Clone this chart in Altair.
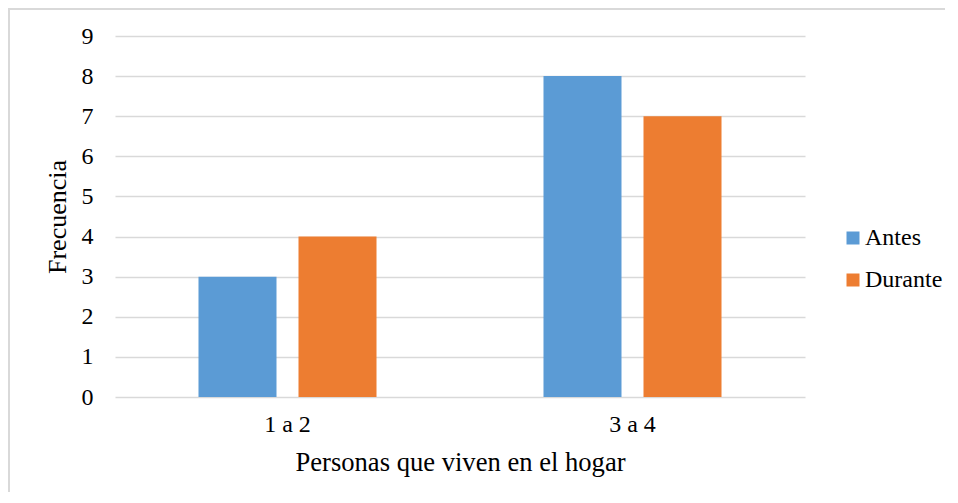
import altair as alt
import pandas as pd

categories = ["1 a 2", "3 a 4"]
series = ["Antes", "Durante"]
antes = [3, 8]
durante = [4, 7]
y_ticks = [0, 1, 2, 3, 4, 5, 6, 7, 8, 9]

rows = []
for i, c in enumerate(categories):
    rows.append({"cat": c, "serie": series[0], "val": antes[i]})
    rows.append({"cat": c, "serie": series[1], "val": durante[i]})
df = pd.DataFrame(rows)

FONT = "'Times New Roman', 'Liberation Serif', Times, serif"

bars = alt.Chart(df).mark_bar().encode(
    x=alt.X("cat:N", sort=categories,
            scale=alt.Scale(paddingInner=0.484, paddingOuter=0.242),
            axis=alt.Axis(title="Personas que viven en el hogar", labelAngle=0,
                          domain=False, ticks=False, labelPadding=15,
                          titlePadding=13, labelFontSize=24, titleFontSize=26.6,
                          labelColor="#000", titleColor="#000",
                          labelFont=FONT, titleFont=FONT, titleFontWeight="normal")),
    xOffset=alt.XOffset("serie:N", sort=series,
                        scale=alt.Scale(paddingInner=0.22, paddingOuter=0)),
    y=alt.Y("val:Q", scale=alt.Scale(domain=[0, 9], nice=False),
            axis=alt.Axis(title="Frecuencia", values=y_ticks, domain=False, ticks=False,
                          grid=True, gridColor="#d9d9d9", gridWidth=1.6,
                          labelPadding=22, titlePadding=11,
                          labelFontSize=24, titleFontSize=26,
                          labelColor="#000", titleColor="#000",
                          labelFont=FONT, titleFont=FONT, titleFontWeight="normal")),
    color=alt.Color("serie:N", sort=series,
                    scale=alt.Scale(domain=series, range=["#5B9BD5", "#ED7D31"]),
                    legend=alt.Legend(title=None, orient="none", legendX=726, legendY=190,
                                      symbolType="square", symbolSize=169,
                                      symbolStrokeWidth=0, labelFontSize=24,
                                      labelFont=FONT, labelColor="#000",
                                      rowPadding=18, labelOffset=0, padding=0)),
)

frame = alt.Chart(pd.DataFrame({"k": [0]})).mark_rect(
    fill=None, stroke="#d9d9d9", strokeWidth=2
).encode(x=alt.value(-106), x2=alt.value(900), y=alt.value(-27), y2=alt.value(600))

chart = alt.layer(frame, bars).properties(
    width=690, height=361,
    autosize=alt.AutoSizeParams(type="none"),
    padding={"left": 107, "top": 28, "right": 140, "bottom": 95},
).configure(font=FONT).configure_axis(labelFont=FONT, titleFont=FONT).configure_legend(
    labelFont=FONT
).configure_view(stroke=None)

chart.save("out.html", embed_options={"renderer": "svg", "actions": False})
